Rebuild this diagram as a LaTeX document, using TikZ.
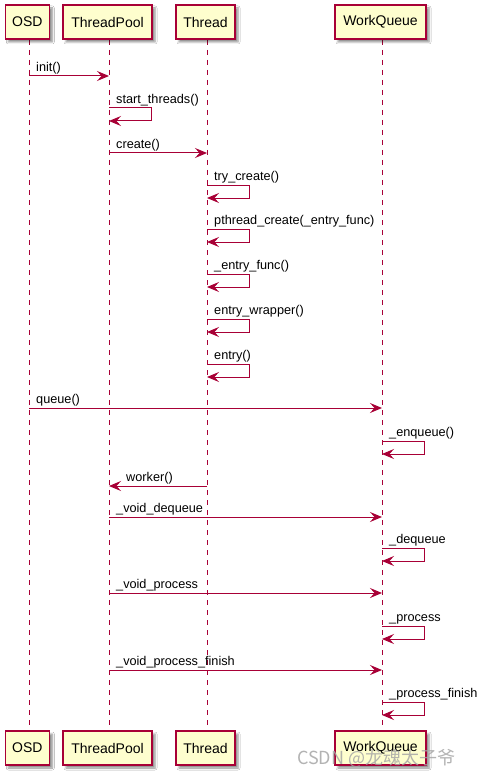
\documentclass[tikz,border=0pt]{standalone}
\usepackage{fontspec}
\setmainfont{Liberation Sans}
\newfontfamily\cjkfont{Noto Sans CJK SC}
\usetikzlibrary{arrows.meta,shadows.blur}
\definecolor{pred}{HTML}{A80036}
\definecolor{pfill}{HTML}{FEFECE}
\newcommand{\selfcall}[4]{%
  \coordinate (#1a) at (#2,#3);
  \coordinate (#1b) at (#2,#3+13);
  \draw[msg] (#1a) -- ++(42,0) |- (#1b);
  \node[lbl] (#1l) at ([xshift=7pt,yshift=4.5pt]#1a) {#4};
}
\newcommand{\callmsg}[6]{%
  \coordinate (#1a) at (#2,#4);
  \coordinate (#1b) at (#3,#4);
  \draw[msg] (#1a) -- (#1b);
  \node[lbl] (#1l) at (#5,#4-4.5) {#6};
}
\begin{document}
\begin{tikzpicture}[x=1pt,y=-1pt,
  part/.style={draw=pred, fill=pfill, line width=1.3pt, minimum height=34pt,
    inner sep=0pt, font=\fontsize{14}{16}\selectfont,
    blur shadow={shadow xshift=3pt, shadow yshift=-3pt, shadow blur steps=4,
      shadow opacity=45, shadow blur radius=2pt}},
  lifeline/.style={draw=pred, line width=0.9pt, dash pattern=on 5pt off 5pt},
  msg/.style={draw=pred, line width=1pt, -{Stealth[length=12pt,width=10pt,inset=4.5pt]}},
  lbl/.style={font=\fontsize{12.7}{15}\selectfont, anchor=base west, inner sep=0pt}
]
\useasboundingbox[fill=white] (0,0) rectangle (485,778);

% lifelines (drawn first)
\coordinate (l1t) at (29,40);   \coordinate (l1b) at (29,731);
\coordinate (l2t) at (109,40);  \coordinate (l2b) at (109,731);
\coordinate (l3t) at (207,40);  \coordinate (l3b) at (207,731);
\coordinate (l4t) at (382,40);  \coordinate (l4b) at (382,731);
\draw[lifeline] (l1t) -- (l1b);
\draw[lifeline] (l2t) -- (l2b);
\draw[lifeline] (l3t) -- (l3b);
\draw[lifeline] (l4t) -- (l4b);

% participants top
\node[part, minimum width=44pt] (osd) at (27.3,22) {OSD};
\node[part, minimum width=89pt] (tp) at (107.5,22) {ThreadPool};
\node[part, minimum width=59pt] (th) at (205.5,22) {Thread};
\node[part, minimum width=91pt] (wq) at (380.5,22) {WorkQueue};
% participants bottom
\node[part, minimum width=44pt] (osdB) at (27.3,748) {OSD};
\node[part, minimum width=89pt] (tpB) at (107.5,748) {ThreadPool};
\node[part, minimum width=59pt] (thB) at (205.5,748) {Thread};
\node[part, minimum width=91pt] (wqB) at (380.5,748) {WorkQueue};

% messages
\callmsg{m1}{29}{109}{76}{36}{init()}
\selfcall{m2}{109}{108}{start\_threads()}
\callmsg{m3}{109}{207}{153}{116}{create()}
\selfcall{m4}{207}{185}{try\_create()}
\selfcall{m5}{207}{229}{pthread\_create(\_entry\_func)}
\selfcall{m6}{207}{274}{\_entry\_func()}
\selfcall{m7}{207}{319}{entry\_wrapper()}
\selfcall{m8}{207}{364}{entry()}
\callmsg{m9}{29}{382}{408}{36}{queue()}
\selfcall{m10}{382}{441}{\_enqueue()}
\callmsg{m11}{207}{109}{486}{126}{worker()}
\callmsg{m12}{109}{382}{517}{116}{\_void\_dequeue}
\selfcall{m13}{382}{548}{\_dequeue}
\callmsg{m14}{109}{382}{593}{116}{\_void\_process}
\selfcall{m15}{382}{626}{\_process}
\callmsg{m16}{109}{382}{670}{116}{\_void\_process\_finish}
\selfcall{m17}{382}{702}{\_process\_finish}

% watermark
\node[anchor=west, inner sep=0pt, text=gray!70, opacity=0.85,
  font=\cjkfont\fontsize{18}{20}\selectfont] (wm) at (297,758) {CSDN @龙魂太子爷};
\end{tikzpicture}
\end{document}
